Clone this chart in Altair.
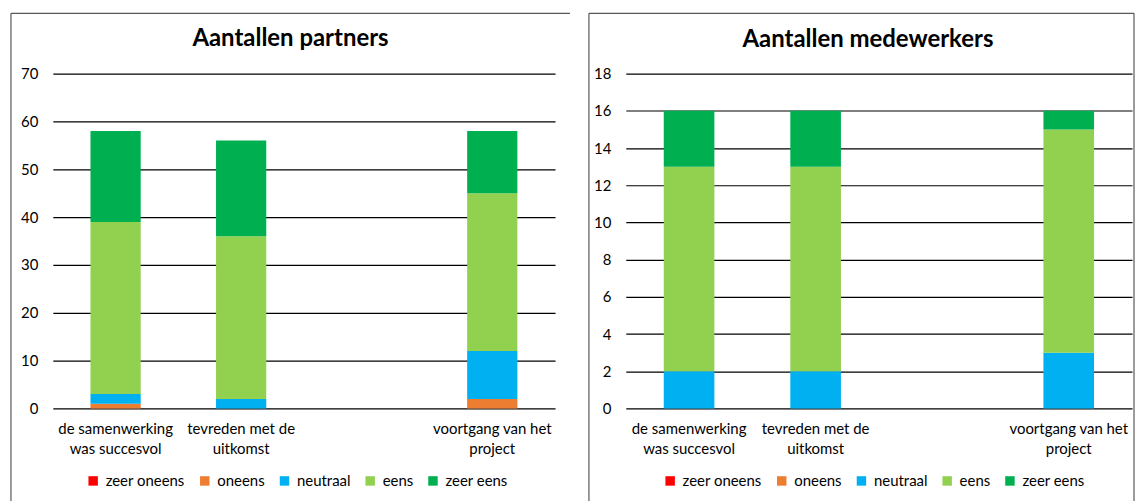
import altair as alt
import pandas as pd

# ---- data ----
categories = ["de samenwerking\nwas succesvol", "tevreden met de\nuitkomst", "", "voortgang van het\nproject"]
bar_categories = [categories[0], categories[1], categories[3]]
levels = ["zeer oneens", "oneens", "neutraal", "eens", "zeer eens"]
level_colors = ["#FF0000", "#ED7D31", "#00B0F0", "#92D050", "#00B050"]

partners_zeer_oneens = [0, 0, 0]
partners_oneens = [1, 0, 2]
partners_neutraal = [2, 2, 10]
partners_eens = [36, 34, 33]
partners_zeer_eens = [19, 20, 13]

medewerkers_zeer_oneens = [0, 0, 0]
medewerkers_oneens = [0, 0, 0]
medewerkers_neutraal = [2, 2, 3]
medewerkers_eens = [11, 11, 12]
medewerkers_zeer_eens = [3, 3, 1]

partners_ticks = [0, 10, 20, 30, 40, 50, 60, 70]
medewerkers_ticks = [0, 2, 4, 6, 8, 10, 12, 14, 16, 18]

FONT = "Lato"


def build_df(series):
    rows = []
    for li, (lvl, vals) in enumerate(zip(levels, series)):
        for cat, v in zip(bar_categories, vals):
            rows.append({"cat": cat, "level": lvl, "value": v, "ord": li})
    return pd.DataFrame(rows)


df_p = build_df([partners_zeer_oneens, partners_oneens, partners_neutraal,
                 partners_eens, partners_zeer_eens])
df_m = build_df([medewerkers_zeer_oneens, medewerkers_oneens, medewerkers_neutraal,
                 medewerkers_eens, medewerkers_zeer_eens])
df_labels = pd.DataFrame({"cat": categories})


def panel(df, title, ticks, width, height, frame, title_pos, legend_pos):
    xscale = alt.Scale(domain=categories, paddingInner=0.6, paddingOuter=0.3)
    fl, fr, ft, fb = frame
    bars = alt.Chart(df).mark_bar().encode(
        x=alt.X("cat:N", scale=xscale, axis=None, sort=categories),
        y=alt.Y("value:Q", stack="zero",
                scale=alt.Scale(domain=[ticks[0], ticks[-1]], nice=False),
                axis=alt.Axis(values=ticks, title=None, grid=True, gridColor="#000000",
                              gridWidth=1.2, domain=False, ticks=False, labelPadding=15,
                              labelFont=FONT, labelFontSize=15, labelColor="#000000")),
        color=alt.Color("level:N",
                        scale=alt.Scale(domain=levels, range=level_colors),
                        legend=alt.Legend(orient="none", legendX=legend_pos[0], legendY=legend_pos[1],
                                          direction="horizontal", title=None, symbolType="square",
                                          symbolSize=90, symbolStrokeWidth=0, labelFont=FONT,
                                          labelFontSize=15, labelColor="#000000", labelOffset=5,
                                          columnPadding=12, padding=0)),
        order=alt.Order("ord:Q", sort="ascending"),
    )
    labels = alt.Chart(df_labels).mark_text(
        baseline="top", align="center", lineBreak="\n", font=FONT, fontSize=15,
        lineHeight=20, color="#000000"
    ).encode(
        x=alt.X("cat:N", scale=xscale, axis=None, sort=categories),
        y=alt.value(height + 14),
        text="cat:N",
    )
    one = alt.Data(values=[{"t": title}])
    ttl = alt.Chart(one).mark_text(
        font=FONT, fontSize=24, fontWeight="bold", align="center", baseline="middle", color="#000000"
    ).encode(x=alt.value(title_pos[0]), y=alt.value(title_pos[1]), text="t:N")
    layers = [bars, labels, ttl]
    fstyle = dict(color="#595959", strokeWidth=1.2)
    layers.append(alt.Chart(one).mark_rule(**fstyle).encode(
        x=alt.value(fl), x2=alt.value(fr), y=alt.value(ft)))
    layers.append(alt.Chart(one).mark_rule(**fstyle).encode(
        x=alt.value(fl), y=alt.value(ft), y2=alt.value(fb)))
    if fr < width + 10:
        layers.append(alt.Chart(one).mark_rule(**fstyle).encode(
            x=alt.value(fr), y=alt.value(ft), y2=alt.value(fb)))
    return alt.layer(*layers).properties(width=width, height=height)


left = panel(df_p, "Aantallen partners", partners_ticks, 504, 336,
             frame=(-42, 519, -60.5, 429), title_pos=(238.5, -35), legend_pos=(33, 401))
right = panel(df_m, "Aantallen medewerkers", medewerkers_ticks, 508, 336,
              frame=(-37, 510, -60.5, 429), title_pos=(243, -34), legend_pos=(37, 401))

chart = alt.hconcat(left, right, spacing=17).resolve_scale(
    color="independent", x="independent", y="independent"
).resolve_legend(color="independent").properties(
    padding={"left": 10, "top": 11, "right": 0, "bottom": 0}
).configure_view(stroke=None)

chart.save("out.html", embed_options={"renderer": "svg", "actions": False})
